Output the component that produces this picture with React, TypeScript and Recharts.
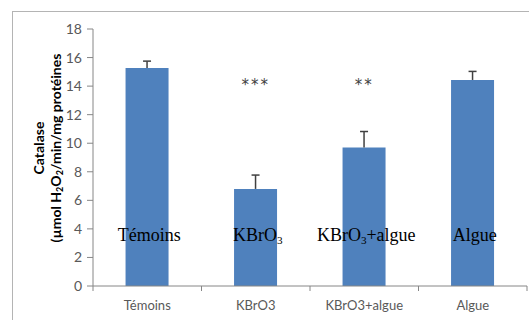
import { BarChart, Bar, XAxis, YAxis, ReferenceDot } from 'recharts'

const categories = ['Témoins', 'KBrO3', 'KBrO3+algue', 'Algue']
const means = [15.27, 6.8, 9.7, 14.43]
const errors = [0.48, 0.97, 1.12, 0.6]
const stars = ['', '***', '**', '']
const yTicks = [0, 2, 4, 6, 8, 10, 12, 14, 16, 18]
const starLevel = 14.3
const nameLevel = 3.6

const W = 529
const H = 320
const AXIS_Y = 286
const HALF_BAND = (527 - 93) / categories.length / 2

const data = categories.map((name, i) => ({ name, mean: means[i], err: errors[i] }))

// "KBrO3" -> KBrO + subscript 3
function Formula({ text, size, sub }: { text: string; size: number; sub: number }) {
  const parts = text.split('3')
  return (
    <>
      {parts.map((p, i) => (
        <tspan key={i}>
          <tspan dy={i > 0 ? -sub : 0}>{p}</tspan>
          {i < parts.length - 1 && <tspan fontSize={size * 0.62} dy={sub}>3</tspan>}
        </tspan>
      ))}
    </>
  )
}

function XTick(props: any) {
  const { x, payload, index } = props
  const last = index === categories.length - 1
  return (
    <g>
      <line x1={x - HALF_BAND} x2={x - HALF_BAND} y1={AXIS_Y} y2={AXIS_Y + 5} stroke="#868686" />
      {last && <line x1={x + HALF_BAND} x2={x + HALF_BAND} y1={AXIS_Y} y2={AXIS_Y + 5} stroke="#868686" />}
      <text x={x} y={AXIS_Y + 24} textAnchor="middle" fontSize={13} fill="#595959" fontFamily="Lato">
        {payload.value}
      </text>
    </g>
  )
}

function YLabel() {
  return (
    <g fontFamily="Lato" fontWeight="bold" fontSize={14} fill="#000">
      <text x={44} y={148} textAnchor="middle" transform="rotate(-90 44 148)">Catalase</text>
      <text x={61} y={148} textAnchor="middle" transform="rotate(-90 61 148)">
        (µmol H<tspan fontSize={9} dy={2}>2</tspan><tspan dy={-2}>O</tspan>
        <tspan fontSize={9} dy={2}>2</tspan><tspan dy={-2}>/min/mg protéines</tspan>
      </text>
    </g>
  )
}

// plus-only error bar drawn in the stacked segment above each mean
function ErrShape(props: any) {
  const { x, y, width, height } = props
  const cx = x + width / 2
  return (
    <g stroke="#404040" strokeWidth={1.5}>
      <line x1={cx} x2={cx} y1={y + height} y2={y} />
      <line x1={cx - 4} x2={cx + 4} y1={y} y2={y} />
    </g>
  )
}

function starLabel(value: string) {
  return (props: any) => {
    const vb = props.viewBox
    return (
      <text x={vb.x + vb.width / 2} y={vb.y + vb.height / 2 + 8} textAnchor="middle"
        fontSize={15} letterSpacing={2} fill="#404040" fontFamily="DejaVu Sans">
        {value}
      </text>
    )
  }
}

function nameLabel(value: string) {
  return (props: any) => {
    const vb = props.viewBox
    return (
      <text x={vb.x + vb.width / 2 + 2} y={vb.y + vb.height / 2 + 6} textAnchor="middle"
        fontSize={18} fill="#000" fontFamily="Liberation Serif">
        <Formula text={value} size={18} sub={3} />
      </text>
    )
  }
}

export default function App() {
  return (
    <div style={{ position: 'absolute', left: 0, top: 0, width: W, height: H, background: '#fff', overflow: 'hidden' }}>
      <div style={{ position: 'absolute', left: 12, top: 11, width: 600, height: 400, border: '1px solid #b4b4b4' }} />
      <div style={{ position: 'absolute', left: 0, top: 0 }}>
        <BarChart width={W} height={H} data={data} margin={{ top: 29, right: 2, bottom: 0, left: 0 }} barCategoryGap="30%">
          <XAxis dataKey="name" height={34} tickLine={false} stroke="#868686" tick={<XTick />} interval={0} />
          <YAxis width={93} domain={[0, 18]} ticks={yTicks} interval={0} stroke="#868686" tickSize={6} tickMargin={5}
            tick={{ fontSize: 14, fill: '#595959', fontFamily: 'Lato' }} label={<YLabel />} allowDataOverflow />
          <Bar dataKey="mean" stackId="a" fill="#4F81BD" isAnimationActive={false} />
          <Bar dataKey="err" stackId="a" fill="none" shape={<ErrShape />} isAnimationActive={false} />
          {categories.map((c, i) => stars[i] ? (
            <ReferenceDot key={'s' + c} x={c} y={starLevel} r={1} fill="none" stroke="none" label={starLabel(stars[i])} />
          ) : null)}
          {categories.map((c) => (
            <ReferenceDot key={'n' + c} x={c} y={nameLevel} r={1} fill="none" stroke="none" label={nameLabel(c)} />
          ))}
        </BarChart>
      </div>
    </div>
  )
}
